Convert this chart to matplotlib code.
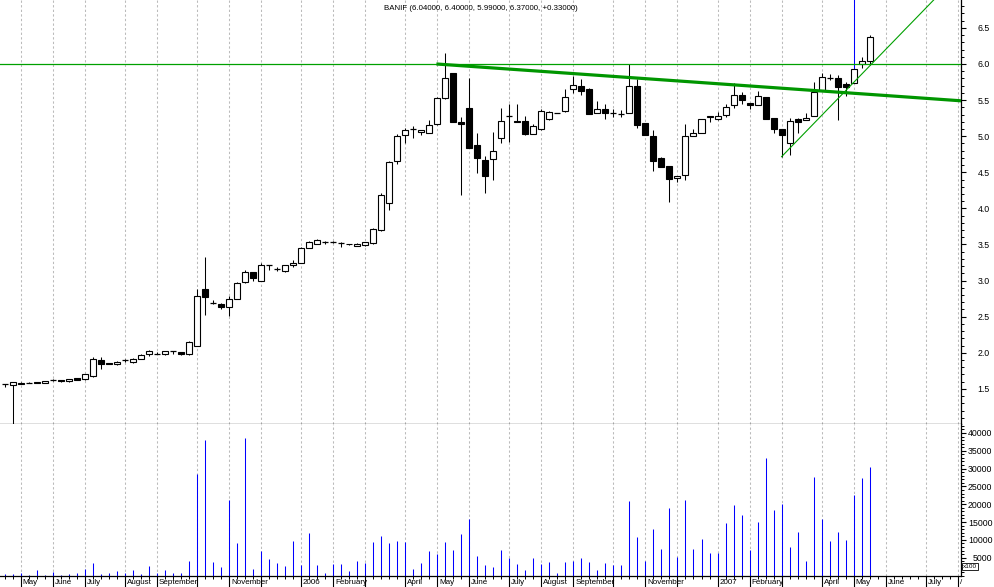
import matplotlib
matplotlib.use("Agg")
import matplotlib.pyplot as plt
from matplotlib.patches import Rectangle
from matplotlib.transforms import blended_transform_factory
from matplotlib.ticker import MultipleLocator, FixedLocator, NullFormatter

plt.rcParams['font.family'] = ['Liberation Sans', 'DejaVu Sans']

# ---------------- data (weekly bars, index 0..108) ----------------
opens = [1.57, 1.55, 1.585, 1.58, 1.595, 1.58, 1.62, 1.625, 1.605, 1.647,
         1.64, 1.675, 1.895, 1.855, 1.84, 1.895, 1.87, 1.92, 1.98, 1.99,
         1.98, 2.02, 2.005, 1.98, 2.10, 2.88, 2.695, 2.68, 2.63, 2.74,
         2.975, 3.115, 3.00, 3.21, 3.16, 3.13, 3.21, 3.25, 3.45, 3.51,
         3.54, 3.54, 3.525, 3.505, 3.48, 3.49, 3.52, 3.70, 4.08, 4.65,
         5.01, 5.095, 5.06, 5.05, 5.165, 5.525, 5.875, 5.20, 5.39, 4.88,
         4.67, 4.68, 4.97, 5.275, 5.21, 5.21, 5.035, 5.095, 5.235, 5.32,
         5.35, 5.66, 5.695, 5.66, 5.32, 5.38, 5.32, 5.31, 5.32, 5.69,
         5.18, 5.00, 4.70, 4.59, 4.42, 4.46, 5.00, 5.05, 5.26, 5.235,
         5.29, 5.43, 5.57, 5.46, 5.43, 5.54, 5.25, 5.10, 4.90, 5.24,
         5.22, 5.285, 5.64, 5.81, 5.81, 5.72, 5.73, 6.00, 6.04]
highs = [1.57, 1.60, 1.59, 1.59, 1.60, 1.61, 1.635, 1.63, 1.64, 1.65,
         1.71, 1.94, 1.94, 1.86, 1.88, 1.915, 1.925, 1.98, 2.035, 2.01,
         2.025, 2.02, 2.01, 2.17, 2.88, 3.33, 2.73, 2.69, 2.79, 2.98,
         3.14, 3.12, 3.25, 3.215, 3.19, 3.215, 3.29, 3.46, 3.55, 3.575,
         3.545, 3.545, 3.53, 3.51, 3.515, 3.54, 3.73, 4.21, 4.65, 5.03,
         5.12, 5.14, 5.085, 5.23, 5.54, 6.157, 5.88, 5.27, 5.81, 5.04,
         4.72, 5.06, 5.39, 5.44, 5.45, 5.275, 5.175, 5.37, 5.35, 5.32,
         5.66, 5.83, 5.79, 5.67, 5.49, 5.45, 5.38, 5.365, 6.00, 5.79,
         5.18, 5.085, 4.715, 4.59, 4.45, 5.17, 5.095, 5.235, 5.28, 5.335,
         5.446, 5.74, 5.61, 5.46, 5.626, 5.54, 5.25, 5.10, 5.25, 5.245,
         5.32, 5.75, 5.88, 5.86, 5.85, 5.75, 7.50, 6.09, 6.40]
lows = [1.52, 0.50, 1.565, 1.575, 1.58, 1.575, 1.61, 1.60, 1.60, 1.625,
        1.63, 1.67, 1.78, 1.84, 1.835, 1.875, 1.865, 1.915, 1.96, 1.99,
        1.975, 1.98, 1.975, 1.975, 2.09, 2.53, 2.67, 2.60, 2.51, 2.74,
        2.97, 2.99, 3.00, 3.15, 3.13, 3.125, 3.19, 3.25, 3.45, 3.51,
        3.51, 3.52, 3.47, 3.495, 3.475, 3.485, 3.51, 3.69, 3.98, 4.61,
        4.91, 4.97, 5.01, 5.04, 5.16, 5.51, 5.20, 4.19, 4.84, 4.49,
        4.22, 4.40, 4.90, 4.92, 5.19, 5.01, 5.03, 5.09, 5.225, 5.32,
        5.33, 5.60, 5.57, 5.31, 5.32, 5.235, 5.26, 5.26, 5.315, 5.12,
        5.01, 4.52, 4.58, 4.09, 4.365, 4.40, 5.00, 5.05, 5.20, 5.23,
        5.27, 5.395, 5.446, 5.377, 5.43, 5.24, 5.04, 4.716, 4.745, 5.05,
        5.22, 5.28, 5.64, 5.78, 5.225, 5.55, 5.73, 5.94, 5.99]
closes = [1.57, 1.59, 1.57, 1.58, 1.585, 1.605, 1.62, 1.605, 1.637, 1.63,
          1.70, 1.918, 1.85, 1.84, 1.87, 1.895, 1.92, 1.975, 2.03, 1.99,
          2.02, 2.02, 1.98, 2.15, 2.79, 2.77, 2.695, 2.64, 2.74, 2.96,
          3.115, 3.04, 3.21, 3.21, 3.16, 3.21, 3.25, 3.45, 3.54, 3.56,
          3.54, 3.54, 3.525, 3.50, 3.51, 3.53, 3.71, 4.19, 4.64, 5.00,
          5.08, 5.095, 5.08, 5.16, 5.53, 5.80, 5.20, 5.17, 4.84, 4.70,
          4.45, 4.79, 5.21, 5.275, 5.19, 5.035, 5.14, 5.35, 5.335, 5.32,
          5.54, 5.705, 5.63, 5.31, 5.37, 5.32, 5.32, 5.31, 5.69, 5.16,
          5.01, 4.66, 4.58, 4.41, 4.45, 5.00, 5.05, 5.235, 5.28, 5.28,
          5.40, 5.57, 5.505, 5.43, 5.557, 5.24, 5.10, 5.01, 5.206, 5.19,
          5.25, 5.61, 5.82, 5.81, 5.685, 5.685, 5.93, 6.04, 6.37]
volumes = [400, 400, 600, 200, 1540, 200, 980, 200, 400, 700,
           1820, 3500, 400, 700, 1260, 700, 1540, 400, 2660, 700,
           1540, 700, 700, 4070, 28490, 38030, 3790, 2390, 21200, 9120,
           38590, 1820, 6880, 4630, 3500, 2660, 9680, 2950, 11930, 2950,
           700, 3220, 3220, 1260, 4070, 3500, 9400, 11090, 9120, 9680,
           9400, 1820, 3500, 6880, 6040, 9400, 7160, 11650, 15860, 5480,
           2950, 2390, 7160, 4910, 3220, 1540, 4910, 3220, 3790, 700,
           3790, 4070, 4910, 3790, 1540, 3500, 2950, 2950, 20920, 10810,
           4070, 13050, 7440, 18950, 5190, 21200, 7440, 10250, 6320, 6320,
           14740, 19790, 16980, 7160, 15020, 32980, 18390, 20070, 8000, 12210,
           4070, 27650, 15860, 9680, 12210, 9960, 22590, 27370, 30460]

month_idx = [2, 6, 10, 15, 19, 24, 28, 32, 37, 41, 45, 50, 54, 58, 63, 67,
             71, 76, 80, 84, 89, 93, 97, 102, 106, 110, 115, 119]
month_labels = ['May', 'June', 'July', 'August', 'September', '', 'November', '',
                '2006', 'February', '', 'April', 'May', 'June', 'July', 'August',
                'September', '', 'November', '', '2007', 'February', '', 'April',
                'May', 'June', 'July', '/']

level_price = 6.0
resist_x = [53.9, 119.4]
resist_y = [6.00, 5.49]
support_x = [97.0, 125.0]
support_y = [4.716, 7.916]

title = "BANIF (6.04000, 6.40000, 5.99000, 6.37000, +0.33000)"
price_ticks = [1.5, 2.0, 2.5, 3.0, 3.5, 4.0, 4.5, 5.0, 5.5, 6.0, 6.5]
vol_ticks = [5000, 10000, 15000, 20000, 25000, 30000, 35000, 40000]

# ---------------- layout ----------------
W, H = 994, 587
fig = plt.figure(figsize=(W / 100, H / 100), dpi=100)
fig.patch.set_facecolor('white')
x_right = 961
p_top, p_bot, v_bot = 0, 424, 575.5
ax1 = fig.add_axes([0, 1 - p_bot / H, x_right / W, (p_bot - p_top) / H])
ax2 = fig.add_axes([0, 1 - v_bot / H, x_right / W, (v_bot - p_bot) / H])

xlim = (-0.587, 119.4)
for ax in (ax1, ax2):
    ax.set_xlim(*xlim)
    ax.set_facecolor('white')
    for s in ('top', 'left'):
        ax.spines[s].set_visible(False)
    for s in ('right', 'bottom'):
        ax.spines[s].set_linewidth(0.9)
        ax.spines[s].set_color('black')
    for m in month_idx:
        ax.axvline(m, color='#BBBBBB', lw=0.75, linestyle=(0, (2.2, 2.2)), zorder=0)

ax1.set_ylim(1.014, 6.886)
ax2.set_ylim(0, 42520)

# ---------------- candles ----------------
n = len(closes)
ytop = ax1.get_ylim()[1]
bw = 0.75
for i in range(n):
    o, h, l, c = opens[i], highs[i], lows[i], closes[i]
    body_top = max(o, c)
    ax1.plot([i, i], [l, body_top], color='black', lw=0.75, zorder=2,
             solid_capstyle='butt', snap=True)
    wick_col = 'blue' if h > ytop else 'black'
    ax1.plot([i, i], [body_top, h], color=wick_col, lw=0.75, zorder=2,
             solid_capstyle='butt', snap=True)
    if abs(c - o) < 1e-9:
        ax1.plot([i - bw / 2, i + bw / 2], [o, o], color='black', lw=0.9,
                 zorder=3, solid_capstyle='butt')
    else:
        fc = 'white' if c > o else 'black'
        ax1.add_patch(Rectangle((i - bw / 2, min(o, c)), bw, abs(c - o),
                                facecolor=fc, edgecolor='black', lw=0.8, zorder=3))

# lines
ax1.axhline(level_price, color='#00A000', lw=0.9, zorder=4)
ax1.plot(resist_x, resist_y, color='#009600', lw=2.3, zorder=4,
         solid_capstyle='butt')
ax1.plot(support_x, support_y, color='#00A000', lw=0.8, zorder=4)

ax1.text(0.5, 1 - 8 / 424, title, transform=ax1.transAxes, ha='center',
         va='center', fontsize=5.7, color='black')

# ---------------- volume ----------------
ax2.vlines(range(n), 0, volumes, color='#0000FF', lw=0.75, zorder=2, snap=True)

# ---------------- axes ticks ----------------
ax1.yaxis.tick_right()
ax1.yaxis.set_major_locator(FixedLocator(price_ticks))
ax1.yaxis.set_minor_locator(MultipleLocator(0.1))
ax1.set_yticklabels([f"{t:.1f}" for t in price_ticks])
ax1.tick_params(axis='y', which='major', length=3.6, width=0.8, pad=17,
                labelsize=6.3, direction='out')
ax1.tick_params(axis='y', which='minor', length=2.0, width=0.7, direction='out')
for lab in ax1.get_yticklabels():
    lab.set_horizontalalignment('right')
ax1.set_xticks([])

ax2.yaxis.tick_right()
ax2.yaxis.set_major_locator(FixedLocator(vol_ticks))
ax2.yaxis.set_minor_locator(MultipleLocator(1000))
ax2.set_yticklabels([str(t) for t in vol_ticks])
ax2.tick_params(axis='y', which='major', length=3.6, width=0.8, pad=19,
                labelsize=6.3, direction='out')
ax2.tick_params(axis='y', which='minor', length=2.0, width=0.7, direction='out')
for lab in ax2.get_yticklabels():
    lab.set_horizontalalignment('right')

ax2.xaxis.set_major_locator(FixedLocator(month_idx))
ax2.xaxis.set_minor_locator(MultipleLocator(1))
ax2.xaxis.set_major_formatter(NullFormatter())
ax2.tick_params(axis='x', which='major', length=8.5, width=0.8, direction='out')
ax2.tick_params(axis='x', which='minor', length=2.2, width=0.7, direction='out')

tr = blended_transform_factory(ax2.transData, ax2.transAxes)
for m, lab in zip(month_idx, month_labels):
    if lab:
        ax2.text(m + 0.25, -(583 - v_bot) / (v_bot - p_bot), lab, transform=tr,
                 ha='left', va='center', fontsize=5.8, clip_on=False)

fig.text(963 / W, 1 - 566.5 / H, 'x100', fontsize=4.6, ha='left', va='center',
         bbox=dict(boxstyle='square,pad=0.12', fc='white', ec='black', lw=0.6))

fig.savefig('out.png', dpi=100, facecolor='white')
